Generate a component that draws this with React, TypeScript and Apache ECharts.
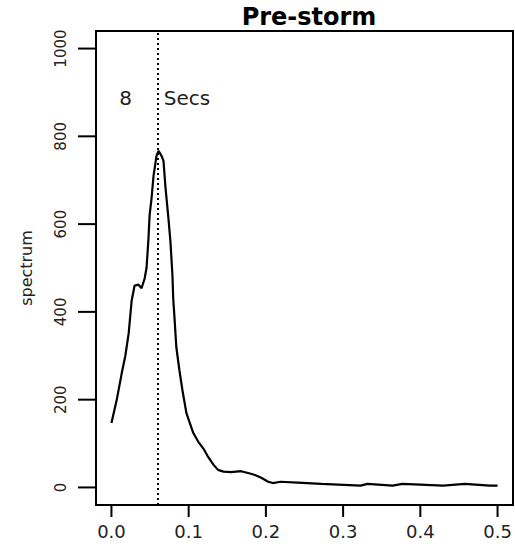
import React, { useEffect, useRef } from "react";
import * as echarts from "echarts";

const freq = [0.000, 0.0068, 0.0133, 0.018, 0.0223, 0.0262, 0.030, 0.035, 0.039, 0.043, 0.0455, 0.048, 0.0494, 0.052, 0.0545, 0.0584, 0.061, 0.065, 0.0674, 0.070, 0.0738, 0.0764, 0.079, 0.080, 0.0816, 0.084, 0.088, 0.0919, 0.097, 0.106, 0.1125, 0.120, 0.125, 0.132, 0.138, 0.145, 0.155, 0.168, 0.177, 0.185, 0.194, 0.203, 0.209, 0.219, 0.241, 0.272, 0.3226, 0.3316, 0.364, 0.377, 0.4295, 0.4578, 0.490, 0.500];
const spectrum = [147, 199, 260, 300, 351, 426, 460, 462, 454, 476, 501, 569, 620, 660, 710, 756, 767, 755, 744, 683, 613, 560, 483, 430, 388, 320, 267, 222, 170, 124, 104, 86, 70, 52, 40, 36, 35, 37, 33, 29, 22, 13, 10, 13, 11, 8, 4, 8, 4, 8, 4, 8, 4, 4];
const xTicks = [0, 0.1, 0.2, 0.3, 0.4, 0.5];
const yTicks = [0, 200, 400, 600, 800, 1000];
const xRange = [0, 0.5];
const yRange = [0, 1000];
const peakFreq = 0.0635;
const annotY = 888;

// R-style 4% axis extension
const xPad = (xRange[1] - xRange[0]) * 0.04;
const yPad = (yRange[1] - yRange[0]) * 0.04;
const xMin = xRange[0] - xPad, xMax = xRange[1] + xPad;
const yMin = yRange[0] - yPad, yMax = yRange[1] + yPad;

export default function App() {
  const ref = useRef<HTMLDivElement>(null);
  useEffect(() => {
    if (!ref.current) return;
    const chart = echarts.init(ref.current, undefined, { renderer: "svg" });
    const font = "DejaVu Sans";
    chart.setOption({
      animation: false,
      title: {
        text: "Pre-storm",
        left: 304,
        top: 0,
        textAlign: "center",
        textStyle: { fontFamily: font, fontWeight: "bold", fontSize: 24, color: "#000" },
      },
      grid: {
        left: 96, right: 2, top: 31, bottom: 39,
        show: true, borderColor: "#000", borderWidth: 2, backgroundColor: "transparent",
      },
      xAxis: {
        type: "value",
        min: xMin,
        max: xMax,
        axisLine: { show: false, onZero: false },
        splitLine: { show: false },
        axisTick: { show: false },
        axisLabel: {
          customValues: xTicks,
          formatter: (v: number) => v.toFixed(1),
          fontFamily: font, fontSize: 18, color: "#222", margin: 17,
        },
      },
      yAxis: {
        type: "value",
        min: yMin,
        max: yMax,
        axisLine: { show: false, onZero: false },
        splitLine: { show: false },
        name: "spectrum",
        nameLocation: "middle",
        nameGap: 62,
        nameRotate: 90,
        nameTextStyle: { fontFamily: font, fontSize: 16, color: "#222" },
        axisTick: { show: false },
        axisLabel: {
          customValues: yTicks,
          rotate: 90,
          formatter: (v: number) => String(v),
          fontFamily: font, fontSize: 15, color: "#222", margin: 28,
        },
      },
      series: [
        {
          type: "line",
          data: freq.map((f, i) => [f, spectrum[i]]),
          showSymbol: false,
          symbol: "none",
          lineStyle: { color: "#000", width: 2.2 },
          markLine: {
            silent: true,
            symbol: "none",
            label: { show: false },
            lineStyle: { color: "#000", type: [2, 3], width: 2 },
            data: [{ xAxis: peakFreq }],
          },
          markPoint: {
            symbol: "circle",
            symbolSize: 1,
            itemStyle: { color: "rgba(0,0,0,0)" },
            silent: true,
            data: [
              {
                coord: [0.0184, annotY],
                label: { show: true, formatter: "8", fontFamily: font, fontSize: 20, color: "#222", position: "inside" },
              },
              {
                coord: [0.0672, annotY],
                label: { show: true, formatter: "Secs", fontFamily: font, fontSize: 20, color: "#222", position: "right", distance: 0 },
              },
            ],
          },
        },
      ],
    });

    // Outward R-style tick marks, placed through the axes' own scales
    const tickEls: any[] = [];
    xTicks.forEach((v) => {
      const p = chart.convertToPixel({ gridIndex: 0 }, [v, yMin]) as number[];
      tickEls.push({
        type: "line",
        z: 100,
        silent: true,
        shape: { x1: p[0], y1: p[1], x2: p[0], y2: p[1] + 12 },
        style: { stroke: "#000", lineWidth: 2 },
      });
    });
    yTicks.forEach((v) => {
      const p = chart.convertToPixel({ gridIndex: 0 }, [xMin, v]) as number[];
      tickEls.push({
        type: "line",
        z: 100,
        silent: true,
        shape: { x1: p[0] - 18, y1: p[1], x2: p[0], y2: p[1] },
        style: { stroke: "#000", lineWidth: 2 },
      });
    });
    chart.setOption({ graphic: tickEls });

    return () => chart.dispose();
  }, []);
  return <div ref={ref} style={{ width: 515, height: 544, position: "absolute", left: 0, top: 0 }} />;
}
